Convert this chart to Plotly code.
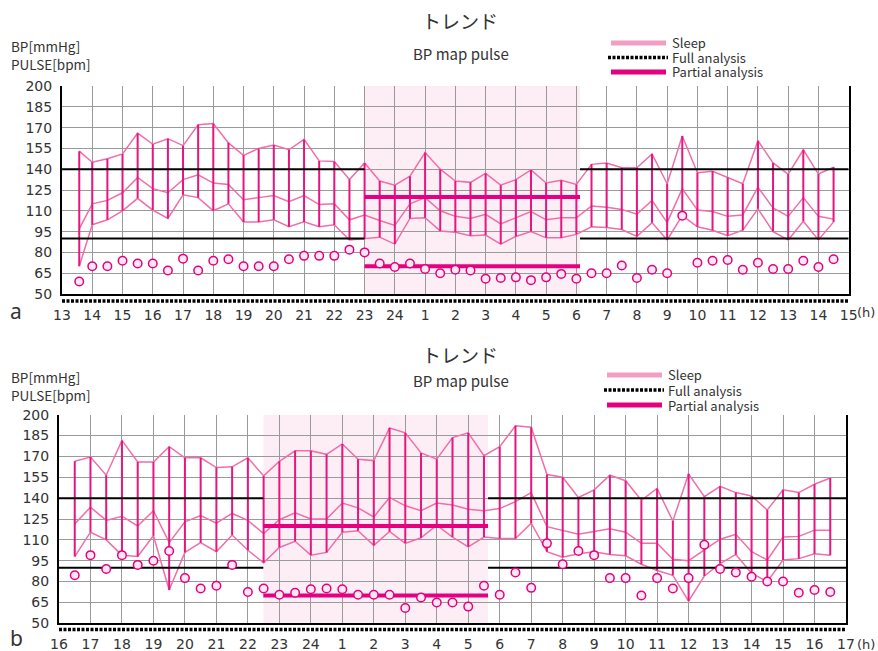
import plotly.graph_objects as go

W, H = 878, 651

# ---------------- Panel a data ----------------
times_a = [13.57, 14.0, 14.5, 15.0, 15.5, 16.0, 16.5, 17.0, 17.5, 18.0, 18.5, 19.0, 19.5,
           20.0, 20.5, 21.0, 21.5, 22.0, 22.5, 23.0, 23.5, 24.0, 24.5, 25.0, 25.5, 26.0,
           26.5, 27.0, 27.5, 28.0, 28.5, 29.0, 29.5, 30.0, 30.5, 31.0, 31.5, 32.0, 32.5,
           33.0, 33.5, 34.0, 34.5, 35.0, 35.5, 36.0, 36.5, 37.0, 37.5, 38.0, 38.5]
sys_a = [153, 145, 147.5, 151, 166, 158, 162, 157, 172, 173, 159, 150, 155,
         157.5, 154, 161.5, 146, 145.5, 132.5, 144.5, 131.5, 128.5, 135, 152, 140, 131.5,
         130.5, 137, 128.5, 132.5, 139.5, 130, 132, 129, 143.5, 144.5, 141, 141, 151,
         129.5, 164, 137.5, 138.5, 134, 129.5, 160.5, 144.5, 136.5, 154, 136.5, 141.5]
map_a = [97, 115, 117.5, 123, 134, 126, 123, 132.5, 136, 130, 129, 118, 119.5,
         121, 116.5, 121, 114.5, 115, 103.5, 107, 103, 99.5, 115, 119.5, 110, 106,
         104.5, 107.5, 100.5, 105, 109.5, 103.5, 105, 105, 113.5, 112.5, 111, 107.5, 117.5,
         101.5, 126, 110.5, 109.5, 106, 107, 127, 112, 106, 119.5, 106, 104]
dia_a = [70, 100, 103.5, 110, 119, 110.5, 104.5, 121.5, 119.5, 110, 115, 102, 102,
         103.5, 98.5, 102, 98.5, 100, 89, 90, 91, 86, 104.5, 105, 95.5, 94.5,
         92, 92.5, 86, 91.5, 95, 90.5, 90.5, 93, 98.5, 98, 96.5, 91.5, 101.5,
         89, 106.5, 98.5, 96, 92, 96, 111.5, 95, 89, 102.5, 89, 102]
pulse_a = [59, 70, 70, 74, 72, 72, 67, 75.5, 67, 74, 75, 70, 70,
           70, 75, 77.5, 77.5, 77.5, 82, 80, 72, 69.5, 72, 68, 65, 67.5,
           67, 61, 61.5, 62, 60, 62, 64.5, 61, 65, 65, 70.5, 61.5, 67.5,
           65, 106.5, 72.5, 74, 74.5, 67.5, 72.5, 68, 68, 74, 69.5, 75]
hours_a = list(range(13, 40))
hour_labels_a = ["13", "14", "15", "16", "17", "18", "19", "20", "21", "22", "23", "24",
                 "1", "2", "3", "4", "5", "6", "7", "8", "9", "10", "11", "12", "13", "14", "15"]
span_a = [13, 39]
sleep_a = [23.0, 30.12]

# ---------------- Panel b data ----------------
times_b = [16.5, 17.0, 17.5, 18.0, 18.5, 19.0, 19.5, 20.0, 20.5, 21.0, 21.5, 22.0, 22.5,
           23.0, 23.5, 24.0, 24.5, 25.0, 25.5, 26.0, 26.5, 27.0, 27.5, 28.0, 28.5, 29.0,
           29.5, 30.0, 30.5, 31.0, 31.5, 32.0, 32.5, 33.0, 33.5, 34.0, 34.5, 35.0, 35.5,
           36.0, 36.5, 37.0, 37.5, 38.0, 38.5, 39.0, 39.5, 40.0, 40.5]
sys_b = [166.5, 169.5, 156.5, 181.5, 166, 166, 177, 169, 169, 162, 162.5, 169, 156,
         166.5, 174, 174, 171.5, 179, 168, 167, 190.5, 187, 172.5, 168, 183.5, 187,
         170.5, 177, 192, 191, 157, 155, 140.5, 146, 156.5, 152.5, 138.5, 147, 123.5,
         157.5, 141, 148.5, 144, 141.5, 131.5, 146, 144, 150, 154.5]
map_b = [121.5, 133.5, 124, 127, 120, 131, 108, 123, 127.5, 122, 129, 124, 114.5,
         124.5, 129.5, 125, 125, 136.5, 133, 126.5, 140.5, 134.5, 131, 136.5, 135, 132,
         131, 132.5, 137.5, 144, 119.5, 116.5, 114, 116, 118, 115.5, 107.5, 107.5, 96,
         95, 102.5, 110.5, 114, 101.5, 95.5, 112, 112.5, 117, 117]
dia_b = [98, 115.5, 110, 99, 98, 113, 74, 101, 108, 101.5, 113.5, 102.5, 93.5,
         104.5, 109, 99, 101, 115.5, 116.5, 106, 116, 107.5, 111.5, 120.5, 112, 105,
         112, 111, 111, 122, 101.5, 97.5, 100, 101.5, 99.5, 98.5, 92.5, 88, 84.5,
         66, 84, 93, 99.5, 86, 80, 95.5, 96.5, 100, 99]
pulse_b = [84.5, 99, 89, 99, 92, 95, 102, 82.5, 75, 77, 92, 72.5, 75,
           70.5, 72, 74.5, 75, 74.5, 70.5, 70.5, 70.5, 61, 68.5, 65, 65, 62,
           77, 70.5, 86.5, 75.5, 107.5, 92.5, 102, 99, 82.5, 82.5, 70, 82.5, 75,
           82.5, 106.5, 89, 86.5, 83.5, 80, 80, 72, 74, 72.5]
hours_b = list(range(16, 42))
hour_labels_b = ["16", "17", "18", "19", "20", "21", "22", "23", "24",
                 "1", "2", "3", "4", "5", "6", "7", "8", "9", "10", "11", "12",
                 "13", "14", "15", "16", "17"]
span_b = [16, 41]
sleep_b = [22.49, 29.63]

# ---------------- shared ----------------
y_ticks = [50, 65, 80, 95, 110, 125, 140, 155, 170, 185, 200]
day_limits = [140, 90]
night_limits = [120, 70]

C_LINE = "#f06ea9"
C_VERT = "#e6157f"
C_DEEP = "#e4007f"
C_SLEEP_BG = "#fdeef5"
C_SLEEP_LEG = "#f19ec2"
C_GRID = "#9a9a9a"
C_TEXT = "#333333"
TICK_FONT = dict(family="DejaVu Sans", size=14, color=C_TEXT)
JP = "Noto Sans CJK JP"


def px(x):
    return x / W


def py(y):
    return 1 - y / H


fig = go.Figure()
layout = dict(width=W, height=H, margin=dict(l=0, r=0, t=0, b=0, autoexpand=False),
              paper_bgcolor="white", plot_bgcolor="white", showlegend=False)
shapes = []
annotations = []

panels = [
    dict(t=times_a, s=sys_a, m=map_a, d=dia_a, p=pulse_a, hours=hours_a, labels=hour_labels_a,
         span=span_a, sleep=sleep_a, xd=(62, 848.7), yd=(86, 294), strip=(297, 305),
         ax="", sx="3", title_y=21, sub_y=53, bp_y=(46, 64), leg_y=(43, 57.5, 72),
         leg_x=(611, 666, 671), letter="a", letter_y=311, h_y=313),
    dict(t=times_b, s=sys_b, m=map_b, d=dia_b, p=pulse_b, hours=hours_b, labels=hour_labels_b,
         span=span_b, sleep=sleep_b, xd=(59, 846), yd=(414.7, 623.3), strip=(625.5, 633.5),
         ax="2", sx="4", title_y=354, sub_y=380, bp_y=(377, 395), leg_y=(375, 390, 405),
         leg_x=(607, 662, 667), letter="b", letter_y=638, h_y=644),
]

for P in panels:
    xa, ya = "x" + P["ax"], "y" + P["ax"]
    sxa, sya = "x" + P["sx"], "y" + P["sx"]
    xdom = [px(P["xd"][0]), px(P["xd"][1])]

    layout["xaxis" + P["ax"]] = dict(
        domain=xdom, range=P["span"], anchor=ya, tickvals=P["hours"], showticklabels=False,
        showgrid=True, gridcolor=C_GRID, gridwidth=1, zeroline=False, ticks="",
        showline=True, linecolor="black", linewidth=2, fixedrange=True, automargin=False)
    layout["yaxis" + P["ax"]] = dict(
        domain=[py(P["yd"][1]), py(P["yd"][0])], range=[50, 200], anchor=xa,
        tickvals=y_ticks, showgrid=True, gridcolor=C_GRID, gridwidth=1, zeroline=False,
        showline=True, mirror=True, linecolor="black", linewidth=2, ticks="",
        tickfont=TICK_FONT, ticklabelstandoff=5, fixedrange=True, automargin=False)
    layout["xaxis" + P["sx"]] = dict(
        domain=xdom, range=P["span"], anchor=sya, tickvals=P["hours"], ticktext=P["labels"],
        showgrid=False, zeroline=False, showline=False, ticks="", tickfont=TICK_FONT,
        ticklabelstandoff=0, fixedrange=True, automargin=False)
    layout["yaxis" + P["sx"]] = dict(
        domain=[py(P["strip"][1]), py(P["strip"][0])], range=[0, 1], anchor=sxa,
        visible=False, fixedrange=True, automargin=False)

    # sleep shading
    shapes.append(dict(type="rect", xref=xa, yref=ya + " domain", x0=P["sleep"][0],
                       x1=P["sleep"][1], y0=0, y1=1, fillcolor=C_SLEEP_BG,
                       line=dict(width=0), layer="below"))

    # series lines
    for series in (P["s"], P["m"], P["d"]):
        fig.add_trace(go.Scatter(x=P["t"], y=series, mode="lines", xaxis=xa, yaxis=ya,
                                 line=dict(color=C_LINE, width=1.5), hoverinfo="skip"))
    # verticals sys->dia
    vx, vy = [], []
    for t, s, d in zip(P["t"], P["s"], P["d"]):
        vx += [t, t, None]
        vy += [s, d, None]
    fig.add_trace(go.Scatter(x=vx, y=vy, mode="lines", xaxis=xa, yaxis=ya,
                             line=dict(color=C_VERT, width=2), hoverinfo="skip"))

    # day limits (black) outside the sleep period
    for lim in day_limits:
        fig.add_trace(go.Scatter(
            x=[P["span"][0], P["sleep"][0], None, P["sleep"][1], P["span"][1]],
            y=[lim, lim, None, lim, lim], mode="lines", xaxis=xa, yaxis=ya,
            line=dict(color="black", width=2), hoverinfo="skip"))
    # night limits (pink) during the sleep period
    for lim in night_limits:
        fig.add_trace(go.Scatter(
            x=[P["sleep"][0], P["sleep"][1]], y=[lim, lim], mode="lines", xaxis=xa, yaxis=ya,
            line=dict(color=C_DEEP, width=4), hoverinfo="skip"))

    # pulse
    fig.add_trace(go.Scatter(x=P["t"], y=P["p"], mode="markers", xaxis=xa, yaxis=ya,
                             marker=dict(symbol="circle", size=8.5, color="#fde8f2",
                                         line=dict(color=C_DEEP, width=1.5)),
                             hoverinfo="skip"))

    # full analysis dotted strip
    fig.add_trace(go.Scatter(x=P["span"], y=[0.5, 0.5], mode="lines", xaxis=sxa, yaxis=sya,
                             line=dict(color="black", width=3.5, dash="3px,1.5px"),
                             hoverinfo="skip"))

    # texts
    annotations += [
        dict(text="トレンド", x=px(460), y=py(P["title_y"]), xref="paper", yref="paper",
             showarrow=False, font=dict(family=JP, size=19, color=C_TEXT),
             xanchor="center", yanchor="middle"),
        dict(text="BP map pulse", x=px(461), y=py(P["sub_y"]), xref="paper", yref="paper",
             showarrow=False, font=dict(family=JP, size=15, color=C_TEXT),
             xanchor="center", yanchor="middle"),
        dict(text="BP[mmHg]", x=px(9), y=py(P["bp_y"][0]), xref="paper", yref="paper",
             showarrow=False, font=dict(family=JP, size=13.5, color=C_TEXT),
             xanchor="left", yanchor="middle"),
        dict(text="PULSE[bpm]", x=px(9), y=py(P["bp_y"][1]), xref="paper", yref="paper",
             showarrow=False, font=dict(family=JP, size=13.5, color=C_TEXT),
             xanchor="left", yanchor="middle"),
        dict(text=P["letter"], x=px(16), y=py(P["letter_y"]), xref="paper", yref="paper",
             showarrow=False, font=dict(family="Noto Sans", size=21, color=C_TEXT),
             xanchor="center", yanchor="middle"),
        dict(text="(h)", x=px(866), y=py(P["h_y"]), xref="paper", yref="paper",
             showarrow=False, font=dict(family="DejaVu Sans", size=13, color=C_TEXT),
             xanchor="center", yanchor="middle", borderpad=0),
    ]
    # legend
    lx0, lx1, tx = P["leg_x"]
    ly = P["leg_y"]
    shapes += [
        dict(type="line", xref="paper", yref="paper", x0=px(lx0), x1=px(lx1),
             y0=py(ly[0]), y1=py(ly[0]), line=dict(color=C_SLEEP_LEG, width=5)),
        dict(type="line", xref="paper", yref="paper", x0=px(lx0 - 3), x1=px(lx1 + 2),
             y0=py(ly[1]), y1=py(ly[1]), line=dict(color="black", width=3.5, dash="3px,1.5px")),
        dict(type="line", xref="paper", yref="paper", x0=px(lx0), x1=px(lx1),
             y0=py(ly[2]), y1=py(ly[2]), line=dict(color=C_DEEP, width=5)),
    ]
    for txt, yy in zip(["Sleep", "Full analysis", "Partial analysis"], ly):
        annotations.append(dict(text=txt, x=px(tx), y=py(yy), xref="paper", yref="paper",
                                showarrow=False, xanchor="left", yanchor="middle",
                                borderpad=0,
                                font=dict(family=JP, size=13, color=C_TEXT)))

layout["shapes"] = shapes
layout["annotations"] = annotations
fig.update_layout(**layout)
fig.write_html("out.html", config={"displayModeBar": False},
               post_script="document.body.style.margin='0';document.body.style.overflow='hidden';")
